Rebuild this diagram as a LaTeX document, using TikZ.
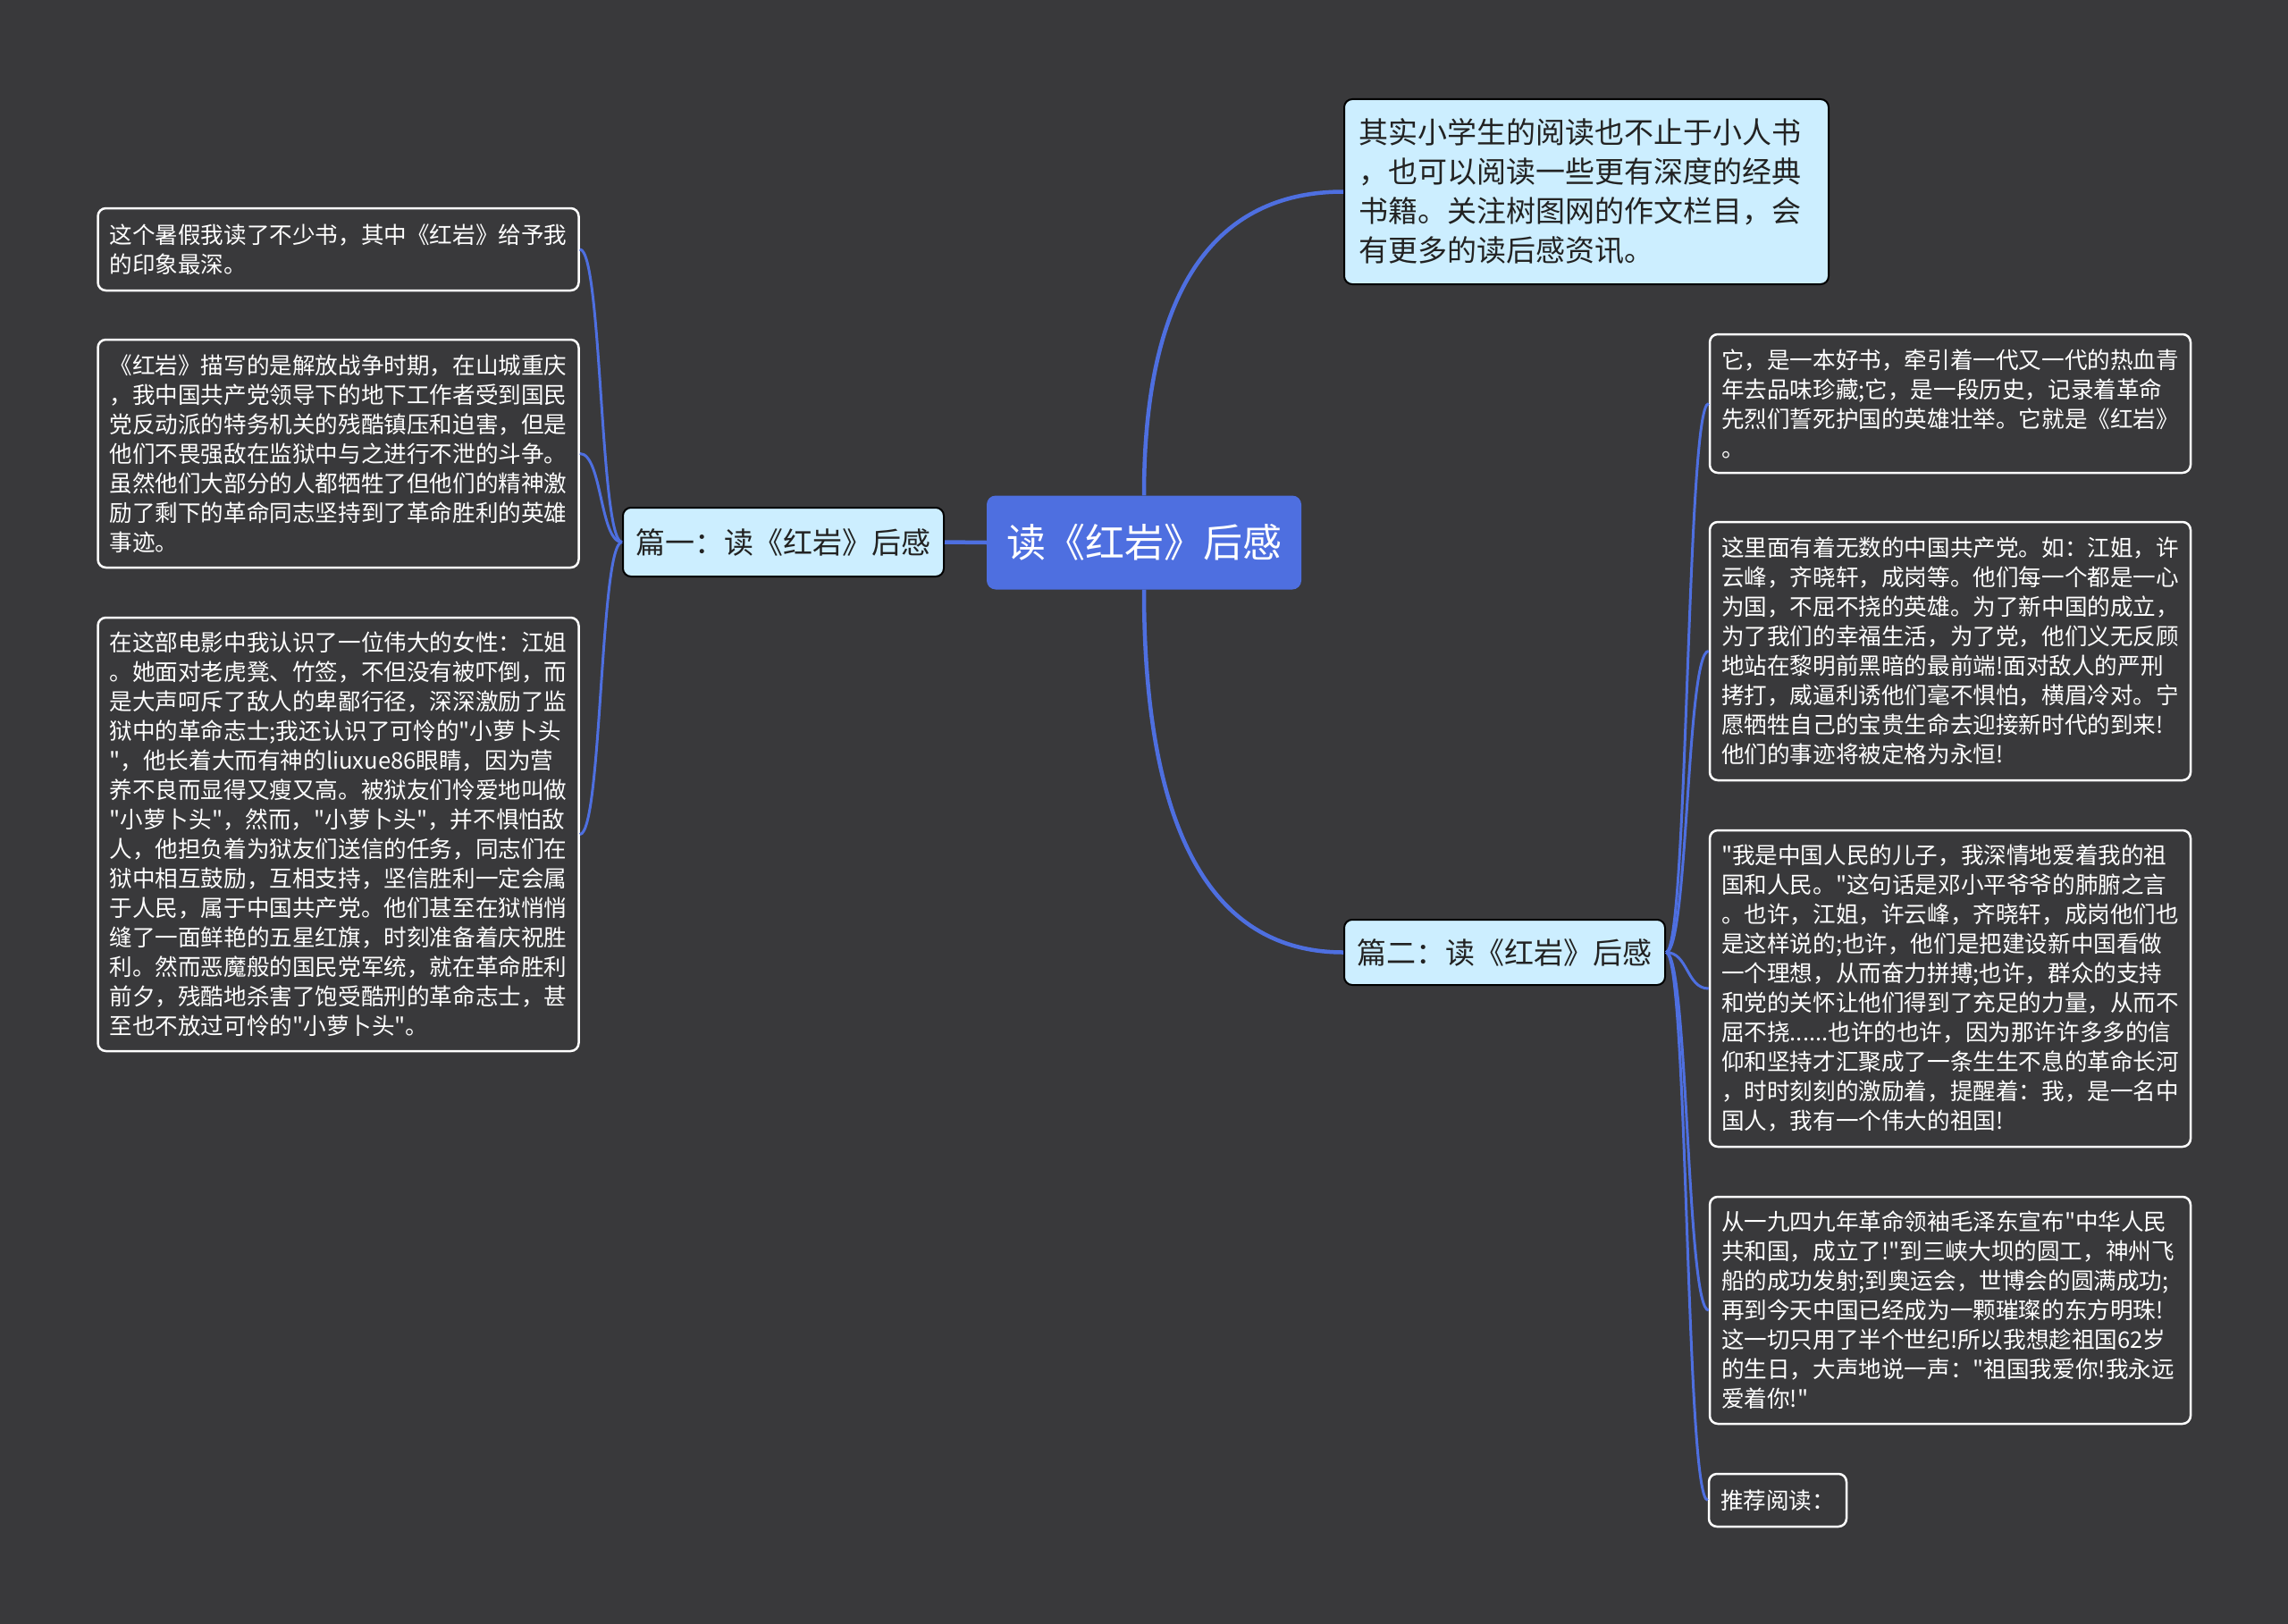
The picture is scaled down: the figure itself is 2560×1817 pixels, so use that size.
\documentclass[tikz,border=0pt]{standalone}
\usepackage{fontspec}
\newfontfamily\cjk{Noto Sans CJK SC}
\definecolor{bgc}{RGB}{57,57,59}
\definecolor{blu}{RGB}{78,111,224}
\definecolor{lite}{RGB}{204,238,255}
\definecolor{ink}{RGB}{34,34,34}
\begin{document}
\begin{tikzpicture}[x=1pt,y=-1pt,
  leafbox/.style={draw=white, line width=2.5pt, fill=bgc, rounded corners=9pt,
    text=white, font=\cjk\fontsize{25.6}{33}\selectfont, align=left,
    inner xsep=13pt, inner ysep=0pt},
  widebox/.style={leafbox, text width=512pt},
  topicbox/.style={draw=black, line width=2pt, fill=lite, rounded corners=9pt,
    text=ink, font=\cjk\fontsize{33}{44}\selectfont, inner ysep=0pt},
  rootbox/.style={fill=blu, rounded corners=10pt, text=white,
    font=\cjk\fontsize{44}{50}\selectfont, inner sep=0pt,
    minimum width=352pt, minimum height=105pt},
  mainlink/.style={draw=blu, line width=4.5pt},
  leaflink/.style={draw=blu, line width=3pt}
]
\fill[bgc] (0,0) rectangle (2560,1817);
\useasboundingbox (0,0) rectangle (2560,1817);

% root and topics
\node[rootbox] (c) at (1280,607) {读《红岩》后感};
\node[topicbox, minimum width=359pt, minimum height=77pt, inner xsep=14pt] (p1) at (876.5,606.5) {篇一：读《红岩》后感};
\node[topicbox, minimum width=359pt, minimum height=73pt, inner xsep=14pt] (p2) at (1683.5,1065.5) {篇二：读《红岩》后感};
\node[topicbox, text width=510pt, inner xsep=16pt, minimum height=207pt, align=left] (tr) at (1775,214.5) {其实小学生的阅读也不止于小人书\\
，也可以阅读一些更有深度的经典\\
书籍。关注树图网的作文栏目，会\\
有更多的读后感资讯。};

% left leaves
\node[widebox, minimum height=92pt] (l1) at (378.5,279) {这个暑假我读了不少书，其中《红岩》给予我\\
的印象最深。};
\node[widebox, minimum height=255pt] (l2) at (378.5,507.5) {《红岩》描写的是解放战争时期，在山城重庆\\
，我中国共产党领导下的地下工作者受到国民\\
党反动派的特务机关的残酷镇压和迫害，但是\\
他们不畏强敌在监狱中与之进行不泄的斗争。\\
虽然他们大部分的人都牺牲了但他们的精神激\\
励了剩下的革命同志坚持到了革命胜利的英雄\\
事迹。};
\node[widebox, minimum height=485pt] (l3) at (378.5,933.5) {在这部电影中我认识了一位伟大的女性：江姐\\
。她面对老虎凳、竹签，不但没有被吓倒，而\\
是大声呵斥了敌人的卑鄙行径，深深激励了监\\
狱中的革命志士;我还认识了可怜的"小萝卜头\\
"，他长着大而有神的liuxue86眼睛，因为营\\
养不良而显得又瘦又高。被狱友们怜爱地叫做\\
"小萝卜头"，然而，"小萝卜头"，并不惧怕敌\\
人，他担负着为狱友们送信的任务，同志们在\\
狱中相互鼓励，互相支持，坚信胜利一定会属\\
于人民，属于中国共产党。他们甚至在狱悄悄\\
缝了一面鲜艳的五星红旗，时刻准备着庆祝胜\\
利。然而恶魔般的国民党军统，就在革命胜利\\
前夕，残酷地杀害了饱受酷刑的革命志士，甚\\
至也不放过可怜的"小萝卜头"。};

% right leaves
\node[widebox, minimum height=155pt] (r1) at (2182,451.5) {它，是一本好书，牵引着一代又一代的热血青\\
年去品味珍藏;它，是一段历史，记录着革命\\
先烈们誓死护国的英雄壮举。它就是《红岩》\\
。};
\node[widebox, minimum height=289pt] (r2) at (2182,728.5) {这里面有着无数的中国共产党。如：江姐，许\\
云峰，齐晓轩，成岗等。他们每一个都是一心\\
为国，不屈不挠的英雄。为了新中国的成立，\\
为了我们的幸福生活，为了党，他们义无反顾\\
地站在黎明前黑暗的最前端!面对敌人的严刑\\
拷打，威逼利诱他们毫不惧怕，横眉冷对。宁\\
愿牺牲自己的宝贵生命去迎接新时代的到来!\\
他们的事迹将被定格为永恒!};
\node[widebox, minimum height=354pt] (r3) at (2182,1106) {"我是中国人民的儿子，我深情地爱着我的祖\\
国和人民。"这句话是邓小平爷爷的肺腑之言\\
。也许，江姐，许云峰，齐晓轩，成岗他们也\\
是这样说的;也许，他们是把建设新中国看做\\
一个理想，从而奋力拼搏;也许，群众的支持\\
和党的关怀让他们得到了充足的力量，从而不\\
屈不挠......也许的也许，因为那许许多多的信\\
仰和坚持才汇聚成了一条生生不息的革命长河\\
，时时刻刻的激励着，提醒着：我，是一名中\\
国人，我有一个伟大的祖国!};
\node[widebox, minimum height=254pt] (r4) at (2182,1466) {从一九四九年革命领袖毛泽东宣布"中华人民\\
共和国，成立了!"到三峡大坝的圆工，神州飞\\
船的成功发射;到奥运会，世博会的圆满成功;\\
再到今天中国已经成为一颗璀璨的东方明珠!\\
这一切只用了半个世纪!所以我想趁祖国62岁\\
的生日，大声地说一声："祖国我爱你!我永远\\
爱着你!"};
\node[leafbox, minimum width=152pt, minimum height=59pt] (r5) at (1989,1678.5) {推荐阅读：};

% connectors
\draw[mainlink] (c.west) -- (p1.east);
\draw[mainlink] (c.north) .. controls +(0,-250) and +(-130,0) .. (tr.west);
\draw[mainlink] (c.south) .. controls +(0,300) and +(-130,0) .. (p2.west);
\foreach \n in {l1,l2,l3}
  \draw[leaflink] (p1.west) .. controls +(-25,0) and +(25,0) .. (\n.east);
\foreach \n in {r1,r2,r3,r4,r5}
  \draw[leaflink] (p2.east) .. controls +(25,0) and +(-25,0) .. (\n.west);
\end{tikzpicture}
\end{document}
